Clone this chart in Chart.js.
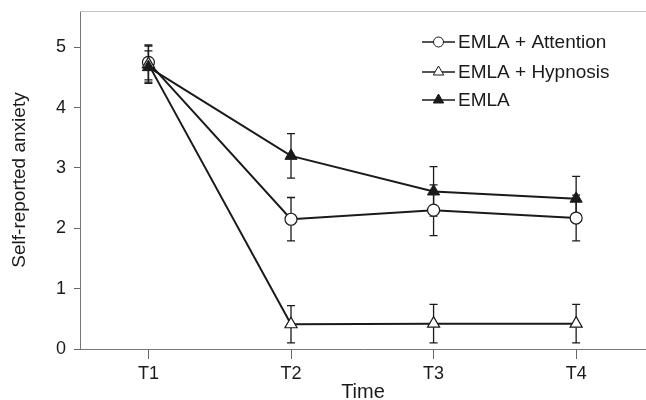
<!DOCTYPE html>
<html lang="en">
<head>
<meta charset="UTF-8">
<title>Self-reported anxiety over time</title>
<script src="https://cdn.jsdelivr.net/npm/chart.js"></script>
<style>
    html, body { margin: 0; padding: 0; background: #ffffff; overflow: hidden; }
    canvas { display: block; }
</style>
</head>
<body>
<canvas id="anxietyChart" width="646" height="400"></canvas>
<script>
// time points
const timeLabels = ['T1', 'T2', 'T3', 'T4'];
const timePos = [1, 2, 3, 4];

// group means and error bars
const attention = [4.75, 2.15, 2.30, 2.17];
const attentionErr = [0.29, 0.36, 0.42, 0.38];
const hypnosis = [4.72, 0.41, 0.42, 0.42];
const hypnosisErr = [0.30, 0.31, 0.32, 0.32];
const emla = [4.67, 3.20, 2.61, 2.49];
const emlaErr = [0.27, 0.37, 0.41, 0.37];

const seriesNames = ['EMLA + Attention', 'EMLA + Hypnosis', 'EMLA'];

const FONT = "'Liberation Sans', Arial, sans-serif";
const INK = '#1a1a1a';

function toPoints(vals) {
    return vals.map((v, i) => ({ x: timePos[i], y: v }));
}

// no extra room around the plot for tick labels
function noPadding(scale) {
    scale.paddingTop = 0;
    scale.paddingBottom = 0;
    scale.paddingLeft = 0;
    scale.paddingRight = 0;
}

// error bars, drawn under the markers
const errorBars = {
    id: 'errorBars',
    beforeDatasetsDraw(chart) {
        const ctx = chart.ctx;
        const xs = chart.scales.x, ys = chart.scales.y;
        ctx.save();
        ctx.strokeStyle = INK;
        ctx.lineWidth = 1.3;
        chart.data.datasets.forEach(ds => {
            ds.data.forEach((p, i) => {
                const e = ds.errors[i];
                const x = xs.getPixelForValue(p.x);
                const yTop = ys.getPixelForValue(p.y + e);
                const yBot = ys.getPixelForValue(p.y - e);
                ctx.beginPath();
                ctx.moveTo(x, yTop); ctx.lineTo(x, yBot);
                ctx.moveTo(x - 4, yTop); ctx.lineTo(x + 4, yTop);
                ctx.moveTo(x - 4, yBot); ctx.lineTo(x + 4, yBot);
                ctx.stroke();
            });
        });
        ctx.restore();
    }
};

// faint top frame + legend inside the plot
const frameAndLegend = {
    id: 'frameAndLegend',
    afterDraw(chart) {
        const ctx = chart.ctx;
        const area = chart.chartArea;
        ctx.save();
        ctx.strokeStyle = '#c4c4c4';
        ctx.lineWidth = 1;
        ctx.beginPath();
        ctx.moveTo(area.left, area.top + 0.5);
        ctx.lineTo(area.right, area.top + 0.5);
        ctx.stroke();

        const x0 = area.right - 224;
        const rows = [area.top + 31, area.top + 61, area.top + 89];
        // legend follows series order: attention, hypnosis, emla
        const legendSets = [chart.data.datasets[1], chart.data.datasets[2], chart.data.datasets[0]];
        legendSets.forEach((ds, i) => {
            const y = rows[i];
            ctx.strokeStyle = INK;
            ctx.lineWidth = 1.5;
            ctx.beginPath();
            ctx.moveTo(x0, y); ctx.lineTo(x0 + 33, y);
            ctx.stroke();
            ctx.fillStyle = ds.pointBackgroundColor;
            ctx.strokeStyle = INK;
            ctx.lineWidth = 1;
            Chart.helpers.drawPoint(ctx, {
                pointStyle: ds.pointStyle, rotation: 0,
                radius: ds.pointStyle === 'circle' ? 5 : 6, borderWidth: 1
            }, x0 + 16.5, y);
            ctx.fillStyle = INK;
            ctx.font = '19px ' + FONT;
            ctx.textBaseline = 'middle';
            ctx.textAlign = 'left';
            ctx.fillText(ds.label, x0 + 36, y + 1);
        });
        ctx.restore();
    }
};

const ctx = document.getElementById('anxietyChart').getContext('2d');
new Chart(ctx, {
    type: 'line',
    data: {
        datasets: [
            {
                label: seriesNames[2],
                data: toPoints(emla),
                errors: emlaErr,
                order: 0,
                borderColor: INK,
                borderWidth: 2,
                pointStyle: 'triangle',
                pointRadius: 7,
                pointBackgroundColor: INK,
                pointBorderColor: INK,
                pointBorderWidth: 1
            },
            {
                label: seriesNames[0],
                data: toPoints(attention),
                errors: attentionErr,
                order: 2,
                borderColor: INK,
                borderWidth: 2,
                pointStyle: 'circle',
                pointRadius: 6,
                pointBackgroundColor: '#ffffff',
                pointBorderColor: INK,
                pointBorderWidth: 1.2
            },
            {
                label: seriesNames[1],
                data: toPoints(hypnosis),
                errors: hypnosisErr,
                order: 1,
                borderColor: INK,
                borderWidth: 2,
                pointStyle: 'triangle',
                pointRadius: 7,
                pointBackgroundColor: '#ffffff',
                pointBorderColor: INK,
                pointBorderWidth: 1.2
            }
        ]
    },
    options: {
        responsive: false,
        animation: false,
        layout: { autoPadding: false, padding: { top: 11, right: 0, left: 0, bottom: 0 } },
        plugins: { legend: { display: false }, tooltip: { enabled: false } },
        scales: {
            x: {
                type: 'linear',
                min: 0.52,
                max: 4.49,
                afterBuildTicks(scale) {
                    scale.ticks = timePos.map(v => ({ value: v }));
                },
                afterFit(scale) {
                    scale.height = 51;
                    noPadding(scale);
                },
                ticks: {
                    callback: (v) => timeLabels[timePos.indexOf(v)] || '',
                    color: INK,
                    font: { family: FONT, size: 18 },
                    padding: 4,
                    maxRotation: 0
                },
                grid: { drawOnChartArea: false, drawTicks: true, tickLength: 10, color: '#666' },
                border: { color: '#777', width: 1 },
                title: {
                    display: true,
                    text: 'Time',
                    color: INK,
                    font: { family: FONT, size: 20, lineHeight: 1 },
                    padding: { top: 0, bottom: -2 }
                }
            },
            y: {
                min: 0,
                max: 5.6,
                afterBuildTicks(scale) {
                    scale.ticks = scale.ticks.filter(t => Number.isInteger(t.value));
                },
                afterFit(scale) {
                    scale.width = 80;
                    noPadding(scale);
                },
                ticks: {
                    stepSize: 1,
                    color: INK,
                    font: { family: FONT, size: 18 },
                    padding: 8
                },
                grid: { drawOnChartArea: false, drawTicks: true, tickLength: 6, color: '#666' },
                border: { color: '#777', width: 1 },
                title: {
                    display: true,
                    text: 'Self-reported anxiety',
                    color: INK,
                    font: { family: FONT, size: 19 },
                    padding: { top: 8, bottom: 0 }
                }
            }
        }
    },
    plugins: [errorBars, frameAndLegend]
});
</script>
</body>
</html>
